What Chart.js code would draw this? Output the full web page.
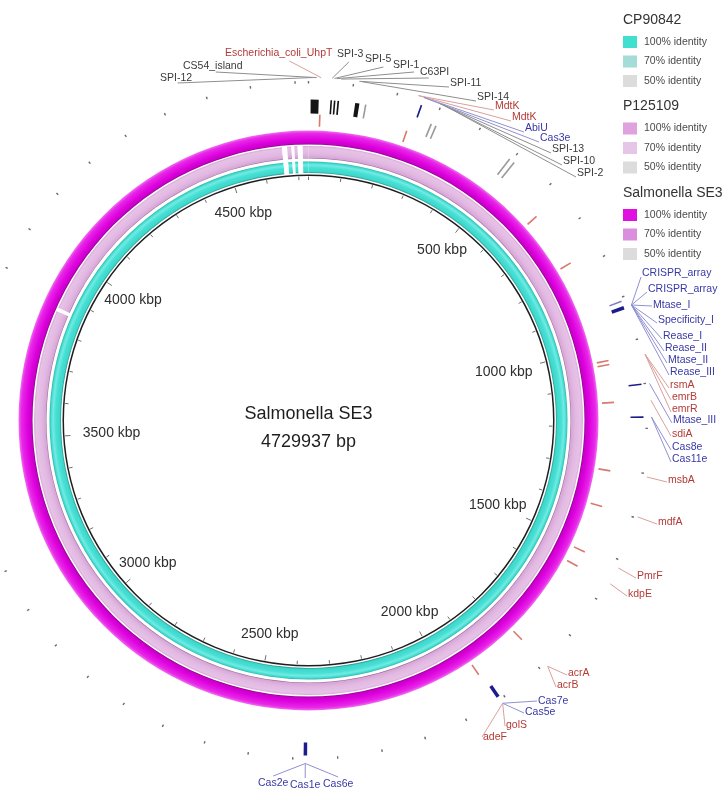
<!DOCTYPE html>
<html>
<head>
<meta charset="utf-8">
<script src="https://cdn.jsdelivr.net/npm/chart.js@4/dist/chart.umd.min.js"></script>
<style>
  html, body { margin: 0; padding: 0; background: #ffffff; }
  #wrap { width: 722px; height: 791px; }
</style>
</head>
<body>
<div id="wrap"><canvas id="map" width="722" height="791"></canvas></div>
<script>
// ---- genome ----
const GENOME_BP = 4729937;
const GENOME_NAME = 'Salmonella SE3';
const GENOME_SIZE_LABEL = '4729937 bp';

// ---- scale (kbp) ----
const SCALE_TICKS_KBP = [500, 1000, 1500, 2000, 2500, 3000, 3500, 4000, 4500];
const SCALE_TICK_LABELS = ['500 kbp', '1000 kbp', '1500 kbp', '2000 kbp', '2500 kbp', '3000 kbp', '3500 kbp', '4000 kbp', '4500 kbp'];
const MINOR_STEP_KBP = 100;

// ---- BLAST rings: regions without a hit (start, end kbp) ----
const SE3_UNMATCHED_KBP = [];
const P125109_UNMATCHED_KBP = [[3856, 3866], [4657, 4671], [4683, 4691], [4700, 4714]];
const CP90842_UNMATCHED_KBP = [[4657, 4671], [4683, 4691], [4700, 4714]];

// ---- legend ----
const LEGEND_TITLES = ['CP90842', 'P125109', 'Salmonella SE3'];
const LEGEND_LEVELS = ['100% identity', '70% identity', '50% identity'];

// ---- feature marks (start kbp, end kbp, kind, track) ----
const MARK_START_KBP = [5, 52, 60, 68, 110, 134, 294, 306, 492, 505,
  27, 245, 632, 774, 1033, 1043, 1137, 1306, 1396, 1516, 1555, 1783, 1920,
  258, 907, 920, 1100, 1174, 1908, 2368];
const MARK_END_KBP = [24, 55, 63, 72, 120, 136, 297, 309, 495, 508,
  29, 247, 634, 776, 1035, 1045, 1139, 1308, 1398, 1518, 1557, 1785, 1922,
  260, 910, 928, 1102, 1176, 1916, 2376];
const MARK_KIND = ['island', 'island', 'island', 'island', 'island', 'other', 'other', 'other', 'other', 'other',
  'resistance', 'resistance', 'resistance', 'resistance', 'resistance', 'resistance', 'resistance', 'resistance', 'resistance', 'resistance', 'resistance', 'resistance', 'resistance',
  'defense', 'defenseLight', 'defense', 'defense', 'defense', 'defense', 'defense'];
const MARK_TRACK = ['middle', 'middle', 'middle', 'middle', 'middle', 'middle', 'middle', 'middle', 'wide', 'wide',
  'inner', 'inner', 'inner', 'inner', 'inner', 'inner', 'inner', 'inner', 'inner', 'inner', 'inner', 'inner', 'inner',
  'outer', 'outer', 'outer', 'outer', 'outer', 'outer', 'outer'];

// ---- feature labels ----
const LABEL_TEXT = ['SPI-12', 'CS54_island', 'Escherichia_coli_UhpT', 'SPI-3', 'SPI-5', 'SPI-1', 'C63PI', 'SPI-11', 'SPI-14',
  'MdtK', 'MdtK', 'AbiU', 'Cas3e', 'SPI-13', 'SPI-10', 'SPI-2',
  'CRISPR_array', 'CRISPR_array', 'Mtase_I', 'Specificity_I', 'Rease_I', 'Rease_II', 'Mtase_II', 'Rease_III',
  'rsmA', 'emrB', 'emrR', 'Mtase_III', 'sdiA', 'Cas8e', 'Cas11e', 'msbA', 'mdfA', 'PmrF', 'kdpE',
  'acrA', 'acrB', 'Cas7e', 'Cas5e', 'golS', 'adeF', 'Cas2e', 'Cas1e', 'Cas6e'];
const LABEL_KIND = ['island', 'island', 'resistance', 'island', 'island', 'island', 'island', 'island', 'island',
  'resistance', 'resistance', 'defense', 'defense', 'island', 'island', 'island',
  'defense', 'defense', 'defense', 'defense', 'defense', 'defense', 'defense', 'defense',
  'resistance', 'resistance', 'resistance', 'defense', 'resistance', 'defense', 'defense', 'resistance', 'resistance', 'resistance', 'resistance',
  'resistance', 'resistance', 'defense', 'defense', 'resistance', 'resistance', 'defense', 'defense', 'defense'];
const LABEL_ORIGIN_KBP = [10, 18, 28, 52, 57, 62, 72, 112, 118,
  246, 246, 259, 259, 296, 302, 309,
  924, 924, 924, 924, 924, 924, 924, 924,
  1036, 1036, 1036, 1101, 1138, 1175, 1175, 1307, 1397, 1517, 1556,
  1784, 1784, 1912, 1912, 1912, 1912, 2372, 2372, 2372];

// label placement around the map: text left / centre offset from the map centre
// (at a 290 px outer radius), and where the leader meets the text
// [dx, dy, fraction of text width, vertical offset]
const LABEL_LAYOUT = [
  [-148.5, -342.5, 0.55, 5], [-125.5, -354.5, 0.55, 6], [-83.5, -367.5, 0.6, 8],
  [28.5, -366.5, 0.45, 8], [56.5, -361.5, 0.7, 8], [84.5, -355.5, 0.8, 7], [111.5, -348.5, 0.3, 6],
  [141.5, -337.5, 0, 4], [168.5, -323.5, 0, 4], [186.5, -314.5, 0, 4], [203.5, -303.5, 0, 4],
  [216.5, -292.5, 0, 4], [231.5, -282.5, 0, 4], [243.5, -271.5, 0, 4], [254.5, -259.5, 0, 4], [268.5, -247.5, 0, 4],
  [333.5, -147.5, 0, 4], [339.5, -131.5, 0, 3], [344.5, -115.5, 0, 1], [349.5, -100.5, 0, 3],
  [354.5, -84.5, 0, 3], [356.5, -72.5, 0, 3], [359.5, -60.5, 0, 3], [361.5, -48.5, 0, 3],
  [361.5, -35.5, 0, 3], [363.5, -23.5, 0, 3], [363.5, -11.5, 0, 3], [364.5, -0.5, 0, 3],
  [363.5, 13.5, 0, 2], [363.5, 26.5, 0, 3], [363.5, 38.5, 0, 3],
  [359.5, 59.5, 0, 2], [349.5, 101.5, 0, 2], [328.5, 155.5, 0, 2], [319.5, 173.5, 0, 2],
  [259.5, 252.5, 0, 2], [248.5, 264.5, 0, 2], [229.5, 280.5, 0, 0], [216.5, 291.5, 0, 1],
  [197.5, 304.5, 0, 1], [174.5, 316.5, 0, 0],
  [-50.5, 362.5, 0.5, -7], [-18.5, 364.5, 0.5, -7], [14.5, 363.5, 0.5, -7]
];

// ---- styling ----
const KIND_STYLE = {
  island:       { mark: '#141414', text: '#3a3a3a', leader: '#8e8e8e' },
  other:        { mark: '#9a9a9a', text: '#3a3a3a', leader: '#8e8e8e' },
  resistance:   { mark: '#d8786e', text: '#b43a36', leader: '#d9a09a' },
  defense:      { mark: '#1c1c8e', text: '#3838a6', leader: '#9090d2' },
  defenseLight: { mark: '#7c7cc4', text: '#3838a6', leader: '#9090d2' }
};
const TRACK_RADII = { inner: [294, 306], middle: [307, 321], wide: [310, 330], outer: [322, 335] };

const RING_SHADES = {
  se3: [[0, '#8c008c'], [0.08, '#c400c4'], [0.35, '#de00de'], [0.8, '#e828e8'], [1, '#f070f0']],
  p125109: [[0, '#9a6c9a'], [0.08, '#d6a6d6'], [0.4, '#e2b8e2'], [0.85, '#e6c2e6'], [1, '#d8a8d8']],
  cp90842: [[0, '#2a9a92'], [0.12, '#3ed6ca'], [0.45, '#46e0d4'], [0.7, '#74eae2'], [0.88, '#40dcd0'], [1, '#2fb4aa']]
};
const LEGEND_SWATCHES = [
  ['#40e0d0', '#a4dcd8', '#dcdcdc'],
  ['#dfa2df', '#e6c6e6', '#dcdcdc'],
  ['#e010e0', '#dc8ede', '#dcdcdc']
];

const TOTAL_KBP = GENOME_BP / 1000;

function buildRing(unmatched) {
  const data = [], gap = [];
  let pos = 0;
  unmatched.slice().sort((a, b) => a[0] - b[0]).forEach(([s, e]) => {
    if (s > pos) { data.push(s - pos); gap.push(false); }
    data.push(e - s); gap.push(true); pos = e;
  });
  if (pos < TOTAL_KBP) { data.push(TOTAL_KBP - pos); gap.push(false); }
  return { data, gap };
}

function ringFill(gaps, stops) {
  return (c) => {
    if (gaps[c.dataIndex]) return '#ffffff';
    const chart = c.chart, ca = chart.chartArea;
    const ctrl = chart.getDatasetMeta(c.datasetIndex).controller;
    if (!ca || !ctrl || !ctrl.outerRadius) return stops[2][1];
    const cx = (ca.left + ca.right) / 2, cy = (ca.top + ca.bottom) / 2;
    const g = chart.ctx.createRadialGradient(cx, cy, ctrl.innerRadius, cx, cy, ctrl.outerRadius);
    stops.forEach(([t, col]) => g.addColorStop(t, col));
    return g;
  };
}

const ringSE3 = buildRing(SE3_UNMATCHED_KBP);
const ringP = buildRing(P125109_UNMATCHED_KBP);
const ringCP = buildRing(CP90842_UNMATCHED_KBP);
const maxLen = Math.max(ringSE3.data.length, ringP.data.length, ringCP.data.length);

const FONT = '"Liberation Sans", Arial, sans-serif';

const genomeMapPlugin = {
  id: 'genomeMap',
  afterDatasetsDraw(chart) {
    const arc = chart.getDatasetMeta(0).data[0];
    const cx = arc.x, cy = arc.y, s = arc.outerRadius / 290;
    const ctx = chart.ctx;
    const ang = (kbp) => -Math.PI / 2 + 2 * Math.PI * kbp / TOTAL_KBP;
    const pt = (kbp, r) => [cx + Math.cos(ang(kbp)) * r * s, cy + Math.sin(ang(kbp)) * r * s];
    ctx.save();

    // scale ticks inside the backbone, every 100 kbp
    ctx.strokeStyle = '#707070';
    ctx.lineWidth = 1;
    for (let k = 0; k < TOTAL_KBP; k += MINOR_STEP_KBP) {
      const major = SCALE_TICKS_KBP.includes(k);
      const [x1, y1] = pt(k, 244);
      const [x2, y2] = pt(k, major ? 238.5 : 240.5);
      ctx.beginPath(); ctx.moveTo(x1, y1); ctx.lineTo(x2, y2); ctx.stroke();
    }
    // outer position dots, every 100 kbp
    ctx.strokeStyle = '#6a6a6a';
    ctx.lineWidth = 1.4;
    for (let k = 0; k < TOTAL_KBP; k += MINOR_STEP_KBP) {
      const [x1, y1] = pt(k, 337);
      const [x2, y2] = pt(k, 339.5);
      ctx.beginPath(); ctx.moveTo(x1, y1); ctx.lineTo(x2, y2); ctx.stroke();
    }

    // scale labels
    ctx.fillStyle = '#2e2e2e';
    ctx.font = `${14 * s}px ${FONT}`;
    ctx.textAlign = 'center';
    ctx.textBaseline = 'middle';
    SCALE_TICKS_KBP.forEach((k, i) => {
      const sn = Math.abs(Math.sin(ang(k) + Math.PI / 2));
      const r = 217 - 20 * Math.pow(sn, 8);
      const [x, y] = pt(k, r);
      ctx.fillText(SCALE_TICK_LABELS[i], x, y);
    });

    // centre title
    ctx.fillStyle = '#1e1e1e';
    ctx.font = `${18 * s}px ${FONT}`;
    ctx.fillText(GENOME_NAME, cx, cy - 6.5 * s);
    ctx.fillText(GENOME_SIZE_LABEL, cx, cy + 21.5 * s);

    // feature marks
    MARK_START_KBP.forEach((k0, i) => {
      const k1 = MARK_END_KBP[i];
      const [rIn, rOut] = TRACK_RADII[MARK_TRACK[i]];
      const rMid = (rIn + rOut) / 2 * s;
      let a0 = ang(k0), a1 = ang(k1);
      const minA = 1.6 / rMid;
      if (a1 - a0 < minA) { const m = (a0 + a1) / 2; a0 = m - minA / 2; a1 = m + minA / 2; }
      ctx.strokeStyle = KIND_STYLE[MARK_KIND[i]].mark;
      ctx.lineWidth = (rOut - rIn) * s;
      ctx.lineCap = 'butt';
      ctx.beginPath(); ctx.arc(cx, cy, rMid, a0, a1); ctx.stroke();
    });

    // labels and leader lines
    ctx.font = `${10.5 * s}px ${FONT}`;
    ctx.textAlign = 'left';
    ctx.textBaseline = 'middle';
    LABEL_TEXT.forEach((t, i) => {
      const [dx, dy, f, ly] = LABEL_LAYOUT[i];
      const st = KIND_STYLE[LABEL_KIND[i]];
      const tx = cx + dx * s, ty = cy + dy * s;
      const w = ctx.measureText(t).width;
      const [ox, oy] = pt(LABEL_ORIGIN_KBP[i], 343);
      const ex = tx + f * w - (f === 0 ? 1 : 0), ey = ty + ly * s;
      ctx.strokeStyle = st.leader;
      ctx.lineWidth = 1;
      ctx.beginPath(); ctx.moveTo(ox, oy); ctx.lineTo(ex, ey); ctx.stroke();
      ctx.fillStyle = st.text;
      ctx.fillText(t, tx, ty);
    });

    // legend
    const lx = chart.width - 99;
    let y = 20;
    LEGEND_TITLES.forEach((title, g) => {
      ctx.fillStyle = '#333333';
      ctx.font = `14px ${FONT}`;
      ctx.textAlign = 'left';
      ctx.fillText(title, lx, y);
      y += 22;
      LEGEND_LEVELS.forEach((lvl, j) => {
        ctx.fillStyle = LEGEND_SWATCHES[g][j];
        ctx.fillRect(lx, y - 6, 14, 12);
        ctx.fillStyle = '#4a4a4a';
        ctx.font = `10.5px ${FONT}`;
        ctx.fillText(lvl, lx + 21, y);
        y += 19.5;
      });
      y += 6;
    });
    ctx.restore();
  }
};

const transparent = 'rgba(0,0,0,0)';
new Chart(document.getElementById('map'), {
  type: 'doughnut',
  data: {
    labels: Array.from({ length: maxLen }, () => ''),
    datasets: [
      { label: 'Salmonella SE3', data: ringSE3.data, backgroundColor: ringFill(ringSE3.gap, RING_SHADES.se3), weight: 14 },
      { label: 'spacer', data: [TOTAL_KBP], backgroundColor: transparent, weight: 1.5 },
      { label: 'P125109', data: ringP.data, backgroundColor: ringFill(ringP.gap, RING_SHADES.p125109), weight: 12.5 },
      { label: 'spacer', data: [TOTAL_KBP], backgroundColor: transparent, weight: 3 },
      { label: 'CP90842', data: ringCP.data, backgroundColor: ringFill(ringCP.gap, RING_SHADES.cp90842), weight: 11.5 },
      { label: 'spacer', data: [TOTAL_KBP], backgroundColor: transparent, weight: 1.5 },
      { label: 'backbone', data: [TOTAL_KBP], backgroundColor: '#1e1e1e', weight: 1.5 }
    ]
  },
  options: {
    responsive: false,
    animation: false,
    events: [],
    cutout: (244.5 / 290 * 100) + '%',
    layout: { padding: { left: 18.5, top: 130.5, right: 123.5, bottom: 80.5 } },
    elements: { arc: { borderWidth: 0 } },
    plugins: { legend: { display: false }, tooltip: { enabled: false } }
  },
  plugins: [genomeMapPlugin]
});
</script>
</body>
</html>
